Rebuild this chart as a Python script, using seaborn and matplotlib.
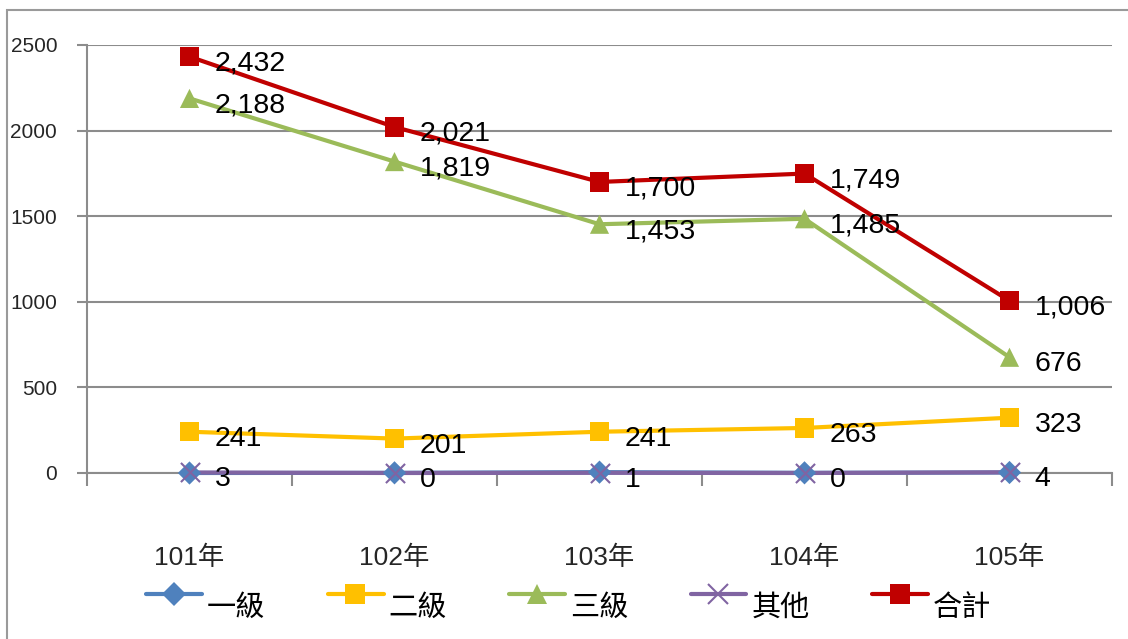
import numpy as np
import pandas as pd
import seaborn as sns
import matplotlib.pyplot as plt
from matplotlib.lines import Line2D
from matplotlib.patches import Rectangle

years = ['101年', '102年', '103年', '104年', '105年']
lv1 = [0, 1, 5, 1, 3]
lv2 = [241, 201, 241, 263, 323]
lv3 = [2188, 1819, 1453, 1485, 676]
other = [3, 0, 1, 0, 4]
total = [2432, 2021, 1700, 1749, 1006]

names = ['一級', '二級', '三級', '其他', '合計']
colors = ['#4F81BD', '#FFC000', '#9BBB59', '#8064A2', '#C00000']
markers = ['D', 's', '^', 'x', 's']
msizes = [140, 190, 190, 190, 190]
labeled = [False, True, True, True, True]

df = pd.DataFrame({'year': years, '一級': lv1, '二級': lv2, '三級': lv3,
                   '其他': other, '合計': total})
df['x'] = np.arange(len(years))

sns.set_style('white')
plt.rcParams['font.family'] = ['Liberation Sans', 'Noto Sans CJK TC', 'DejaVu Sans']

W, H = 1128, 639
fig = plt.figure(figsize=(W / 100, H / 100), dpi=100)
ax = fig.add_axes([87 / W, 1 - 473 / H, 1025 / W, 428 / H])

# outer chart border (right/bottom edges fall outside the image)
fig.patches.append(Rectangle((7 / W, -0.1), 1.2, 1 - 10 / H + 0.1,
                             transform=fig.transFigure, fill=False,
                             edgecolor='#9A9A9A', linewidth=1.5, zorder=0))

# lines first, markers on top (like Excel)
for name, c in zip(names, colors):
    sns.lineplot(data=df, x='x', y=name, color=c, linewidth=3, ax=ax, zorder=3)
for name, c, m, s in zip(names, colors, markers, msizes):
    if m == 'x':
        sns.scatterplot(data=df, x='x', y=name, color=c, marker=m, s=s,
                        linewidth=1.5, ax=ax, zorder=5)
    else:
        sns.scatterplot(data=df, x='x', y=name, color=c, marker=m, s=s,
                        edgecolor='none', ax=ax, zorder=4)
for art in ax.lines + ax.collections:
    art.set_clip_on(False)

for name, lab in zip(names, labeled):
    if not lab:
        continue
    for xi, v in zip(df['x'], df[name]):
        ax.annotate(f'{v:,}', (xi, v), xytext=(18, -5), textcoords='offset points',
                    ha='left', va='center', fontsize=20.5, color='black', zorder=6)

ax.set_xlim(-0.5, 4.5)
ax.set_ylim(0, 2500)
ax.set_yticks([0, 500, 1000, 1500, 2000, 2500])
ax.set_xticks(df['x'])
ax.set_xticklabels(years)
ax.set_xticks(np.arange(-0.5, 5, 1), minor=True)
ax.set_xlabel('')
ax.set_ylabel('')
ax.grid(axis='y', color='#8C8C8C', linewidth=1.5)
ax.grid(axis='x', visible=False)
ax.set_axisbelow(True)
for s in ['top', 'right']:
    ax.spines[s].set_visible(False)
for s in ['left', 'bottom']:
    ax.spines[s].set_color('#8C8C8C')
    ax.spines[s].set_linewidth(1.5)
ax.tick_params(axis='y', left=True, length=7, width=1.5, color='#8C8C8C',
               pad=14.5, labelsize=15)
ax.tick_params(axis='x', which='major', length=0, pad=52, labelsize=19)
ax.tick_params(axis='x', which='minor', bottom=True, length=9, width=1.5,
               color='#8C8C8C', direction='out')

# legend drawn by hand so the text can sit a bit lower than the handle
for i, (name, c, m, s) in enumerate(zip(names, colors, markers, msizes)):
    x0 = (146 + 181.5 * i) / W
    x1 = x0 + 56 / W
    yh = 1 - 594 / H
    fig.add_artist(Line2D([x0, x1], [yh, yh], color=c, linewidth=3,
                          transform=fig.transFigure))
    if m == 'x':
        mk = Line2D([(x0 + x1) / 2], [yh], color=c, marker=m, markersize=14,
                    markeredgewidth=1.5, linestyle='none', transform=fig.transFigure)
    else:
        mk = Line2D([(x0 + x1) / 2], [yh], color=c, marker=m,
                    markersize=np.sqrt(s), markeredgewidth=0, linestyle='none',
                    transform=fig.transFigure)
    fig.add_artist(mk)
    fig.text(x1 + 5 / W, 1 - 608 / H, name, ha='left', va='center',
             fontsize=21, color='black')

fig.savefig('out.png', dpi=100)
